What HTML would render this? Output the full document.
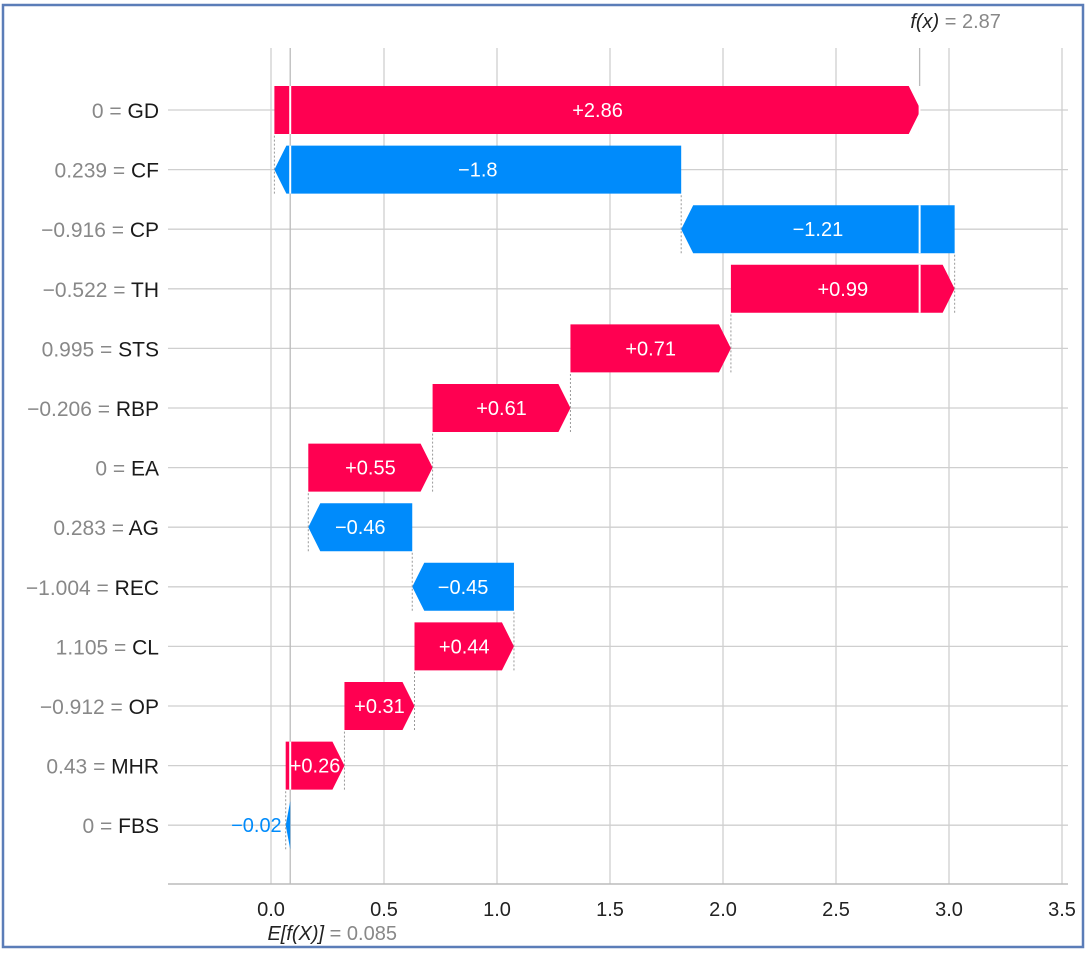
<!DOCTYPE html>
<html><head><meta charset="utf-8"><style>
html,body{margin:0;padding:0;background:#fff;}
svg{display:block;font-family:"Liberation Sans",sans-serif;}
</style></head><body>
<svg id="chart" width="1089" height="955" viewBox="0 0 1089 955">
<rect x="3" y="5" width="1080" height="942" fill="none" stroke="#5b7db8" stroke-width="2.5"/>
<g id="grid"></g><g id="bars"></g><g id="labels"></g>
</svg>
<script>
const features = ["0 = GD","0.239 = CF","\u22120.916 = CP","\u22120.522 = TH","0.995 = STS","\u22120.206 = RBP","0 = EA","0.283 = AG","\u22121.004 = REC","1.105 = CL","\u22120.912 = OP","0.43 = MHR","0 = FBS"];
const shapValues = [2.86,-1.8,-1.21,0.99,0.71,0.61,0.55,-0.46,-0.45,0.44,0.31,0.26,-0.02];
const valueLabels = ["+2.86","\u22121.8","\u22121.21","+0.99","+0.71","+0.61","+0.55","\u22120.46","\u22120.45","+0.44","+0.31","+0.26","\u22120.02"];
const baseValue = 0.085;
const fxValue = 2.87;
const ticks = [0,0.5,1,1.5,2,2.5,3,3.5];
const tickLabels = ["0.0","0.5","1.0","1.5","2.0","2.5","3.0","3.5"];

const NS="http://www.w3.org/2000/svg";
const X0=271, SC=226, Y0=110, DY=59.6, BH=48, TOP=48, AX=884;
const xs=v=>X0+v*SC, ys=i=>Y0+i*DY;
function mk(tag,attrs,parent,text){const e=document.createElementNS(NS,tag);for(const k in attrs)e.setAttribute(k,attrs[k]);if(text!==undefined)e.textContent=text;parent.appendChild(e);return e;}
const grid=document.getElementById('grid'),bars=document.getElementById('bars'),labels=document.getElementById('labels');

ticks.forEach((t,i)=>{
  const l=mk('line',{x1:xs(t),x2:xs(t),y1:TOP,y2:AX,stroke:'#cfcfcf','stroke-width':1.3},grid);
  
  
  const tx=mk('text',{x:xs(t),y:AX+32,'text-anchor':'middle','font-size':20,fill:'#222'},labels,tickLabels[i]);
  
  
});
features.forEach((f,i)=>{
  const l=mk('line',{x1:168,x2:1068,y1:ys(i),y2:ys(i),stroke:'#cfcfcf','stroke-width':1.3},grid);
  
  
  const parts=f.split(' = ');
  const t=mk('text',{x:159,y:ys(i)+8,'text-anchor':'end','font-size':21,fill:'#888'},labels);
  
  
  mk('tspan',{},t,parts[0]+' = ');
  mk('tspan',{fill:'#1a1a1a'},t,parts[1]);
});
const ax=mk('line',{x1:168,x2:1068,y1:AX,y2:AX,stroke:'#bbb','stroke-width':1.5},grid);



const n=shapValues.length, starts=[], ends=[];
let cur=baseValue;
for(let i=n-1;i>=0;i--){starts[i]=cur;cur+=shapValues[i];ends[i]=cur;}

const el=mk('line',{x1:xs(baseValue),x2:xs(baseValue),y1:TOP,y2:AX,stroke:'#bbb','stroke-width':1.3},grid);


const fl=mk('line',{x1:xs(fxValue),x2:xs(fxValue),y1:TOP,y2:ys(0)+BH/2,stroke:'#bbb','stroke-width':1.3},grid);



for(let i=0;i<n;i++){
  const v=shapValues[i], pos=v>=0, col=pos?'#ff0051':'#008bfb';
  const a=xs(Math.min(starts[i],ends[i])), b=xs(Math.max(starts[i],ends[i]));
  const w=b-a, tip=Math.min(12,w), y=ys(i)-BH/2, yc=ys(i);
  let pts;
  if(pos) pts=[[a,y],[b-tip,y],[b,yc],[b-tip,y+BH],[a,y+BH]];
  else pts=[[b,y],[a+tip,y],[a,yc],[a+tip,y+BH],[b,y+BH]];
  const p=mk('polygon',{points:pts.map(q=>q.join(',')).join(' '),fill:col},bars);
  
  
  if(i>0){const d=mk('line',{x1:xs(starts[i-1]),x2:xs(starts[i-1]),y1:y+BH,y2:ys(i-1)+BH/2,stroke:'#999','stroke-width':1,'stroke-dasharray':'2,2'},bars);
    
    }
  [baseValue,fxValue].forEach(r=>{
    if(xs(r)>a+1&&xs(r)<b-1){const wl=mk('line',{x1:xs(r),x2:xs(r),y1:y,y2:y+BH,stroke:'#fff','stroke-width':2},bars);
      
      }
  });
  const inside=w>50;
  const t=mk('text',{x:inside?(a+b)/2:a-4,y:yc+7,'text-anchor':inside?'middle':'end','font-size':20,fill:inside?'#fff':col},labels,valueLabels[i]);
  
  
}
const ft=mk('text',{x:xs(fxValue)+36,y:28,'text-anchor':'middle','font-size':20,fill:'#888'},labels);


mk('tspan',{fill:'#222','font-style':'italic'},ft,'f(x)');
mk('tspan',{},ft,' = '+fxValue.toFixed(2));
const et=mk('text',{x:xs(baseValue)+42,y:940,'text-anchor':'middle','font-size':20,fill:'#888'},labels);


mk('tspan',{fill:'#222','font-style':'italic'},et,'E[f(X)]');
mk('tspan',{},et,' = '+baseValue.toFixed(3));
</script>
</body></html>
